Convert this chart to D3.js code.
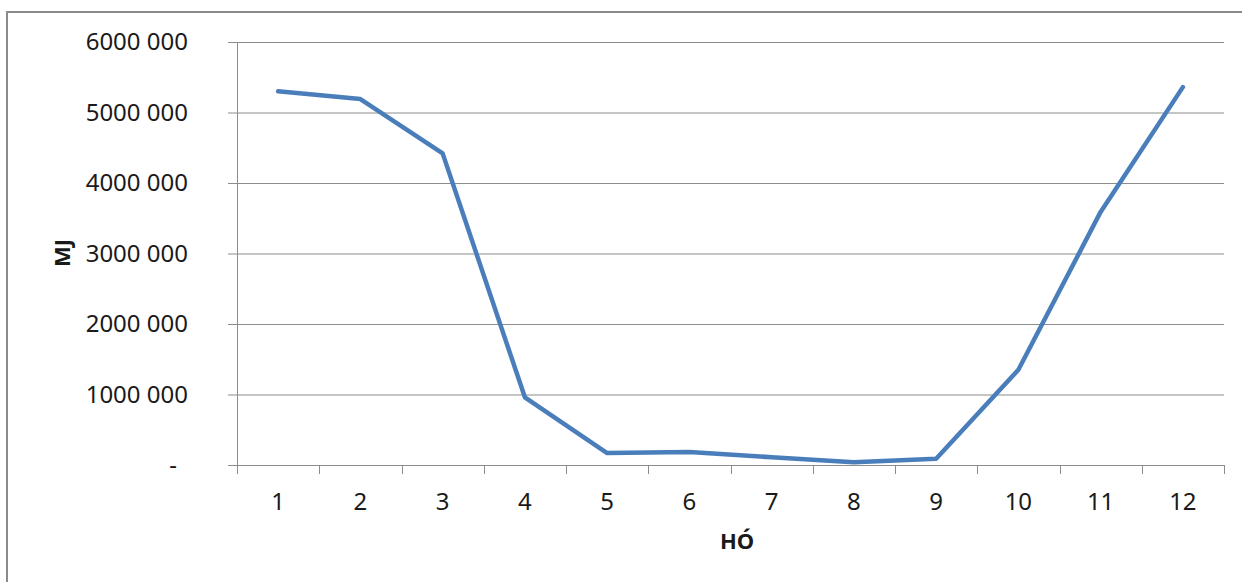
<!DOCTYPE html>
<html>
<head>
<meta charset="utf-8">
<script src="https://cdn.jsdelivr.net/npm/d3@7"></script>
<style>
body{margin:0;background:#fff;}
text{font-family:"Noto Sans",sans-serif;fill:#1a1a1a;}
</style>
</head>
<body>
<div id="canvas"></div>
<script>
var months = ["1","2","3","4","5","6","7","8","9","10","11","12"];
var energy = [5300000,5190000,4420000,960000,170000,185000,110000,40000,90000,1350000,3590000,5360000];
var yTicks = [0,1000000,2000000,3000000,4000000,5000000,6000000];

var width = 1242, height = 582;
var plotLeft = 237, plotRight = 1224, plotTop = 42, plotBottom = 465;

var svg = d3.select("#canvas").append("svg")
	.attr("width",width)
	.attr("height",height);

// outer chart frame
svg.append("rect")
	.attr("x",7).attr("y",12)
	.attr("width",1260).attr("height",620)
	.attr("fill","none")
	.attr("stroke","#8a8a8a")
	.attr("stroke-width",2);

var x = d3.scaleBand().domain(months).range([plotLeft,plotRight]);
var y = d3.scaleLinear().domain([0,6000000]).range([plotBottom,plotTop]);

var fmt = function(v){
	if(v==0) return "-";
	return d3.format(",")(v).replace(/,/g," ").replace(/^(\d) (\d{3})/,"$1$2");
};

// gridlines + y ticks
var yAxis = d3.axisLeft(y).tickValues(yTicks).tickSize(-(plotRight-plotLeft)).tickPadding(0).tickFormat(fmt);
var gy = svg.append("g").attr("transform","translate("+plotLeft+",0)").call(yAxis);
gy.select(".domain").remove();
gy.selectAll(".tick line").attr("stroke","#8c8c8c").attr("x1",-9);
gy.selectAll(".tick text")
	.attr("x",function(d){return d==0 ? -60 : -49;})
	.attr("dy","0.32em")
	.style("font-size","24px")
	.attr("fill","#1a1a1a");

// y axis line
svg.append("line")
	.attr("x1",plotLeft+0.5).attr("x2",plotLeft+0.5)
	.attr("y1",plotTop).attr("y2",plotBottom)
	.attr("stroke","#8c8c8c");

// x axis ticks at band edges
var edges = months.map(function(m){return x(m);}).concat([plotRight]);
svg.selectAll(".xtick").data(edges).enter().append("line")
	.attr("class","xtick")
	.attr("x1",function(d){return Math.round(d)+0.5;})
	.attr("x2",function(d){return Math.round(d)+0.5;})
	.attr("y1",plotBottom).attr("y2",plotBottom+9)
	.attr("stroke","#8c8c8c");

svg.selectAll(".xlab").data(months).enter().append("text")
	.attr("class","xlab")
	.attr("x",function(d){return x(d)+x.bandwidth()/2;})
	.attr("y",510)
	.attr("text-anchor","middle")
	.style("font-size","24px")
	.text(function(d){return d;});

// line
var line = d3.line()
	.x(function(d,i){return x(months[i])+x.bandwidth()/2;})
	.y(function(d){return y(d);});

svg.append("path")
	.datum(energy)
	.attr("d",line)
	.attr("fill","none")
	.attr("stroke","#4a7ebb")
	.attr("stroke-width",4.5)
	.attr("stroke-linejoin","round")
	.attr("stroke-linecap","round");

// axis titles
svg.append("text")
	.attr("x",737).attr("y",549)
	.attr("text-anchor","middle")
	.style("font-size","22px")
	.style("font-weight","bold")
	.text("HÓ");

svg.append("text")
	.attr("transform","translate(70,253) rotate(-90)")
	.attr("text-anchor","middle")
	.style("font-size","22px")
	.style("font-weight","bold")
	.text("MJ");
</script>
</body>
</html>
